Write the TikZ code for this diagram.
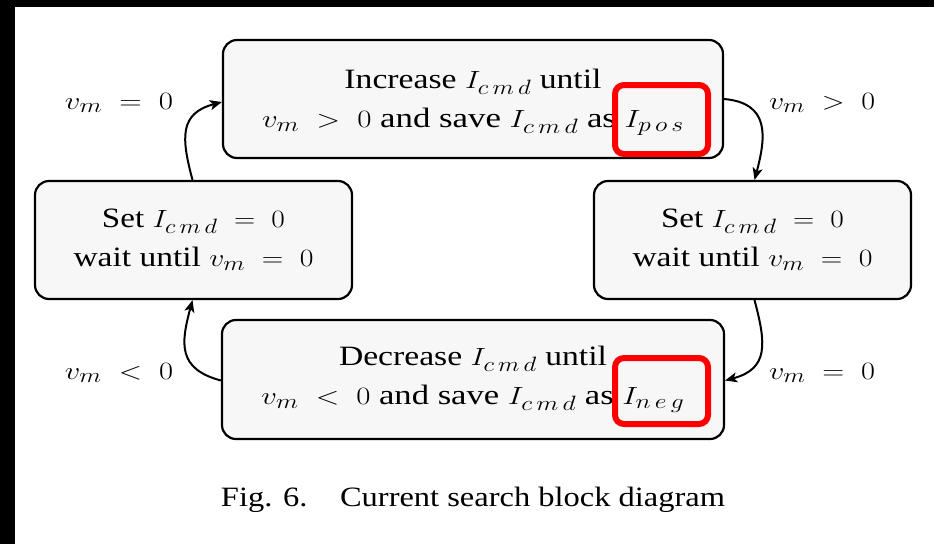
\documentclass[tikz,border=0pt]{standalone}
\usepackage[no-math]{fontspec}
\setmainfont{Liberation Serif}
\usetikzlibrary{arrows.meta}
\newcommand{\wline}[2]{\resizebox{#1pt}{\height}{#2}}
\newcommand{\cmd}{{c\,m\,d}}
\begin{document}
\begin{tikzpicture}[x=1pt,y=-1pt,
  blk/.style={draw=black, line width=2.2pt, rounded corners=14pt, fill=black!3,
    align=center, inner sep=0pt, font=\fontsize{28}{39}\selectfont},
  lbl/.style={font=\fontsize{28}{34}\selectfont, inner sep=0pt},
  hl/.style={draw=red, line width=6pt, rounded corners=9pt},
  arr/.style={line width=2pt, -{Stealth[length=12pt,width=10pt,inset=3pt]}}]
\useasboundingbox (0,0) rectangle (934,544);
\fill[black] (0,0) rectangle (934,7);
\fill[black] (0,0) rectangle (15,544);
\node[blk, minimum width=500pt, minimum height=118pt] (top) at (473,99)
  {\rule{0pt}{26pt}\wline{257}{Increase $I_\cmd$ until}\\
   \wline{422}{$v_m\;>\;0$ and save $I_\cmd$ as $I_{p\,o\,s}$}};
\node[blk, minimum width=317pt, minimum height=118pt] (left) at (193.5,240)
  {\wline{183}{Set $I_\cmd\;=\;0$}\\ \wline{240}{wait until $v_m\;=\;0$}};
\node[blk, minimum width=317pt, minimum height=118pt] (right) at (752.5,240)
  {\wline{183}{Set $I_\cmd\;=\;0$}\\ \wline{240}{wait until $v_m\;=\;0$}};
\node[blk, minimum width=502pt, minimum height=119pt] (bot) at (473,379.5)
  {\wline{268}{Decrease $I_\cmd$ until}\\
   \wline{423}{$v_m\;<\;0$ and save $I_\cmd$ as $I_{n\,e\,g}$}};
\node[hl, minimum width=93pt, minimum height=69pt] (hpos) at (661.5,119.5) {};
\node[hl, minimum width=93pt, minimum height=66pt] (hneg) at (661.5,391) {};
\node[lbl] (l1) at (119,103) {\wline{108}{$v_m\;=\;0$}};
\node[lbl] (l2) at (822,103) {\wline{106}{$v_m\;>\;0$}};
\node[lbl] (l3) at (119,373) {\wline{108}{$v_m\;<\;0$}};
\node[lbl] (l4) at (822,373) {\wline{106}{$v_m\;=\;0$}};
\draw[arr] (top.east) to[out=-5,in=75,looseness=1.35] ([xshift=2pt]right.north);
\draw[arr] ([xshift=2pt]right.south) to[out=-75,in=15,looseness=1.35] ([yshift=-1pt]bot.east);
\draw[arr] ([yshift=-1pt]bot.west) to[out=165,in=-105,looseness=1.35] ([xshift=-1pt]left.south);
\draw[arr] ([xshift=-1pt]left.north) to[out=105,in=195,looseness=1.35] ([yshift=-3pt]top.west);
\node[font=\fontsize{28}{32}\selectfont, inner sep=0pt] (cap) at (473,500)
  {\wline{504}{Fig. 6.\quad Current search block diagram}};
\end{tikzpicture}
\end{document}
